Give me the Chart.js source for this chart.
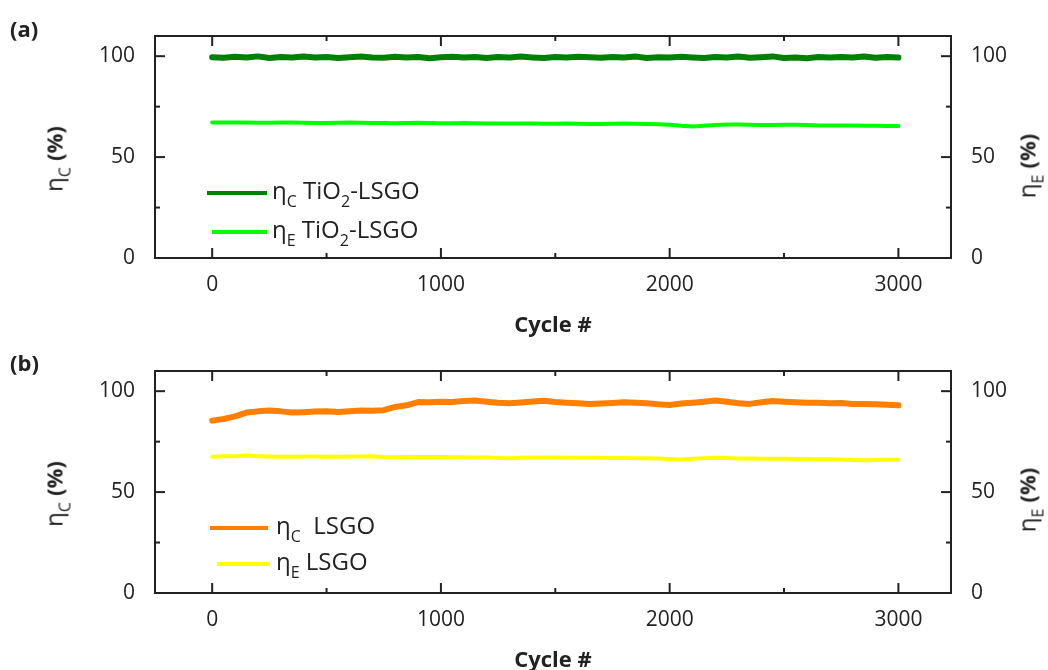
<!DOCTYPE html>
<html>
<head>
<meta charset="utf-8">
<script src="https://cdn.jsdelivr.net/npm/chart.js@4.4.0/dist/chart.umd.min.js"></script>
<style>
body{margin:0;background:#fff;font-family:"Open Sans",sans-serif;color:#222}
#wrap{position:relative;width:1048px;height:670px;overflow:hidden}
canvas{position:absolute;left:0}
.txt{position:absolute;white-space:nowrap;line-height:1}
.panel{font-weight:700;font-size:22px}
.ytitle{font-size:24px;transform:translate(-50%,-50%) rotate(-90deg)}
.ytitle b{font-weight:700;font-size:22px}
.xtitle{font-size:22px;font-weight:700;transform:translate(-50%,-50%)}
.ytitle sub,.leg sub{font-size:16px;vertical-align:-8px;line-height:1}
.leg{font-size:24px;transform:translateY(-50%)}
.sw{position:absolute;height:4px;transform:translateY(-50%)}
</style>
</head>
<body>
<div id="wrap">
<canvas id="chartA" width="1048" height="335" style="top:0"></canvas>
<canvas id="chartB" width="1048" height="335" style="top:335px"></canvas>
</div>
<script>
// cycle numbers sampled every 50 cycles
let cycles = [0,50,100,150,200,250,300,350,400,450,
    500,550,600,650,700,750,800,850,900,950,
    1000,1050,1100,1150,1200,1250,1300,1350,1400,1450,
    1500,1550,1600,1650,1700,1750,1800,1850,1900,1950,
    2000,2050,2100,2150,2200,2250,2300,2350,2400,2450,
    2500,2550,2600,2650,2700,2750,2800,2850,2900,2950,3000]

// (a) TiO2-LSGO
let etaCTiO2 = [99.5,99.2,99.7,99.3,99.9,99.1,99.6,99.4,99.8,99.3,
    99.6,99.1,99.5,99.8,99.3,99.2,99.7,99.4,99.6,99.0,
    99.5,99.7,99.3,99.6,99.1,99.6,99.3,99.8,99.4,99.1,
    99.6,99.3,99.7,99.5,99.2,99.6,99.3,99.8,99.1,99.5,
    99.3,99.7,99.4,99.1,99.6,99.3,99.8,99.2,99.5,99.9,
    99.1,99.4,99.0,99.6,99.3,99.6,99.3,99.8,99.2,99.6,99.3]
let etaETiO2 = [67.1,67.2,67.2,67.1,67.0,67.0,67.1,67.1,67.0,66.9,
    66.9,67.0,67.1,67.0,66.9,66.9,66.8,66.9,67.0,66.9,
    66.8,66.8,66.9,66.8,66.7,66.6,66.6,66.7,66.6,66.5,
    66.5,66.6,66.5,66.4,66.4,66.5,66.6,66.5,66.4,66.3,
    66.0,65.5,65.2,65.5,65.9,66.1,66.1,66.0,65.9,65.9,
    66.0,66.0,65.9,65.7,65.6,65.6,65.6,65.5,65.5,65.4,65.4]

// (b) LSGO
let etaCLSGO = [85.4,86.2,87.5,89.4,90.0,90.4,90.0,89.4,89.6,89.9,
    90.1,89.7,90.0,90.4,90.3,90.6,92.2,93.0,94.6,94.5,
    94.8,94.6,95.1,95.4,94.8,94.3,94.0,94.4,94.9,95.3,
    94.6,94.3,94.0,93.7,93.9,94.2,94.5,94.3,94.0,93.5,
    93.2,93.9,94.3,94.8,95.4,94.8,94.0,93.7,94.5,95.1,
    94.8,94.5,94.3,94.3,94.0,94.1,93.7,93.6,93.5,93.3,93.0]
let etaELSGO = [67.5,67.7,67.8,68.1,67.8,67.6,67.5,67.5,67.6,67.6,
    67.5,67.5,67.6,67.6,67.7,67.4,67.3,67.4,67.4,67.4,
    67.4,67.3,67.3,67.2,67.1,66.9,66.8,67.0,67.1,67.2,
    67.1,67.0,67.0,67.0,67.0,66.9,66.9,66.8,66.8,66.6,
    66.4,66.2,66.5,66.8,67.0,66.9,66.7,66.6,66.5,66.5,
    66.5,66.4,66.4,66.3,66.3,66.1,65.9,65.8,65.9,66.0,66.0]

let xTicks = [0,1000,2000,3000]
let xMinorTicks = [500,1500,2500]
let yTicks = [0,50,100]
let yMinorTicks = [25,75]

let axisColor = "#222"
let tickFont = {family:"Open Sans", size:21}

function toPoints(vals){
    return cycles.map((c, i) => ({x:c, y:vals[i]}))
}

function seg(ctx, x1, y1, x2, y2){
    ctx.beginPath()
    ctx.moveTo(x1, y1)
    ctx.lineTo(x2, y2)
    ctx.stroke()
}

// box frame with inward ticks on all four sides
const frameTicks = {
    id:"frameTicks",
    afterDatasetsDraw(chart){
        let ctx = chart.ctx
        let a = chart.chartArea
        let x = chart.scales.x
        let y = chart.scales.y
        ctx.save()
        ctx.strokeStyle = axisColor
        ctx.lineWidth = 2
        ctx.strokeRect(a.left, a.top, a.right - a.left, a.bottom - a.top)
        xTicks.forEach(v => {
            let p = x.getPixelForValue(v)
            seg(ctx, p, a.bottom, p, a.bottom - 10)
            seg(ctx, p, a.top, p, a.top + 10)
        })
        xMinorTicks.forEach(v => {
            let p = x.getPixelForValue(v)
            seg(ctx, p, a.bottom, p, a.bottom - 5)
            seg(ctx, p, a.top, p, a.top + 5)
        })
        yTicks.forEach(v => {
            let p = y.getPixelForValue(v)
            seg(ctx, a.left, p, a.left + 10, p)
            seg(ctx, a.right, p, a.right - 10, p)
        })
        yMinorTicks.forEach(v => {
            let p = y.getPixelForValue(v)
            seg(ctx, a.left, p, a.left + 5, p)
            seg(ctx, a.right, p, a.right - 5, p)
        })
        ctx.restore()
    }
}

function yAxis(pos, width){
    return {
        position:pos, min:0, max:110,
        grid:{display:false}, border:{display:false},
        ticks:{font:tickFont, color:axisColor, padding:12, callback:v => String(v)},
        afterBuildTicks:s => { s.ticks = yTicks.map(v => ({value:v})) },
        afterFit:s => { s.width = width }
    }
}

function createPanel(canvasId, cSeries, eSeries){
    return new Chart(document.getElementById(canvasId), {
        type:"line",
        data:{
            datasets:[
                {label:cSeries.label, data:toPoints(cSeries.values), borderColor:cSeries.color,
                 borderWidth:6, yAxisID:"y", pointRadius:0, tension:0,
                 borderCapStyle:"round", borderJoinStyle:"round"},
                {label:eSeries.label, data:toPoints(eSeries.values), borderColor:eSeries.color,
                 borderWidth:4, yAxisID:"y2", pointRadius:0, tension:0,
                 borderCapStyle:"round", borderJoinStyle:"round"}
            ]
        },
        options:{
            responsive:false,
            animation:false,
            layout:{padding:{top:36, left:0, right:0, bottom:0}},
            plugins:{legend:{display:false}, tooltip:{enabled:false}},
            scales:{
                x:{
                    type:"linear", min:-250, max:3230,
                    grid:{display:false}, border:{display:false},
                    ticks:{font:tickFont, color:axisColor, padding:6, maxRotation:0, callback:v => String(v)},
                    afterBuildTicks:s => { s.ticks = xTicks.map(v => ({value:v})) },
                    afterFit:s => { s.height = 77 }
                },
                y:yAxis("left", 155),
                y2:yAxis("right", 97)
            }
        },
        plugins:[frameTicks]
    })
}

let chartA = createPanel("chartA",
    {label:"η<sub>C</sub> TiO<sub>2</sub>-LSGO", values:etaCTiO2, color:"#008000"},
    {label:"η<sub>E</sub> TiO<sub>2</sub>-LSGO", values:etaETiO2, color:"#00ff00"})
let chartB = createPanel("chartB",
    {label:"η<sub>C</sub>&nbsp; LSGO", values:etaCLSGO, color:"#ff8000"},
    {label:"η<sub>E</sub> LSGO", values:etaELSGO, color:"#ffff00"})

// overlay texts (subscripts need html)
let wrap = document.getElementById("wrap")
function addText(cls, html, left, top){
    let d = document.createElement("div")
    d.className = "txt " + cls
    d.innerHTML = html
    d.style.left = left + "px"
    d.style.top = top + "px"
    wrap.appendChild(d)
    return d
}
function addLegend(chart, offsetY, entries){
    chart.data.datasets.forEach((ds, i) => {
        let e = entries[i]
        let sw = document.createElement("div")
        sw.className = "sw"
        sw.style.left = e.x1 + "px"
        sw.style.width = (e.x2 - e.x1) + "px"
        sw.style.top = (offsetY + e.y) + "px"
        sw.style.background = ds.borderColor
        wrap.appendChild(sw)
        addText("leg", ds.label, e.tx, offsetY + e.y)
    })
}

addText("panel", "(a)", 10, 17)
addText("panel", "(b)", 10, 351)
addText("ytitle", "η<sub>C</sub> <b>(%)</b>", 57, 159)
addText("ytitle", "η<sub>E</sub> <b>(%)</b>", 1030, 166)
addText("ytitle", "η<sub>C</sub> <b>(%)</b>", 57, 494)
addText("ytitle", "η<sub>E</sub> <b>(%)</b>", 1030, 500)
addText("xtitle", "Cycle #", 553, 323)
addText("xtitle", "Cycle #", 553, 658)
addLegend(chartA, 0, [{x1:207, x2:267, y:193, tx:272}, {x1:212, x2:267, y:232, tx:272}])
addLegend(chartB, 335, [{x1:210, x2:268, y:193, tx:276}, {x1:217, x2:270, y:229, tx:276}])
</script>
</body>
</html>
